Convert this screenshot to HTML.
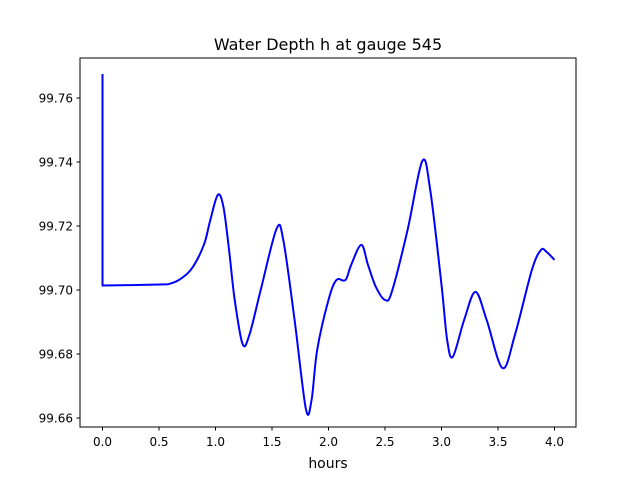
<!DOCTYPE html>
<html><head><meta charset="utf-8">
<style>
body{margin:0;background:#fff;}
svg{display:block;font-family:"DejaVu Sans","Liberation Sans",sans-serif;}
</style></head>
<body>
<svg id="chart" width="640" height="480" viewBox="0 0 640 480">
<rect width="640" height="480" fill="#fff"/>
<text x="328" y="50" font-size="16" text-anchor="middle">Water Depth h at gauge 545</text>
<g id="xticks"></g>
<g id="yticks"></g>
<path id="line" fill="none" stroke="#0000ff" stroke-width="2" stroke-linejoin="round"/>
<rect x="80" y="58" width="496" height="369" fill="none" stroke="#000" stroke-width="1"/>
<text x="328" y="468" font-size="14" text-anchor="middle">hours</text>
</svg>
<script>
const hours=[0,0,0.5,0.6,0.7,0.8,0.9,0.95,1.02,1.07,1.12,1.17,1.24,1.3,1.4,1.54,1.6,1.7,1.8,1.85,1.9,2.0,2.07,2.15,2.2,2.29,2.35,2.42,2.5,2.56,2.7,2.83,2.9,3.0,3.05,3.1,3.2,3.3,3.4,3.54,3.65,3.8,3.88,3.93,4.0];
const depth=[99.7675,99.7014,99.7017,99.702,99.7037,99.7072,99.7144,99.7213,99.7297,99.726,99.7125,99.6969,99.6831,99.686,99.7,99.7191,99.7156,99.6906,99.6628,99.6656,99.6813,99.6969,99.7031,99.7031,99.7078,99.7141,99.7078,99.7009,99.6969,99.6994,99.7188,99.7403,99.7313,99.7016,99.6844,99.6791,99.6906,99.6994,99.6906,99.6756,99.686,99.7063,99.7125,99.7119,99.7094];
const xTicks=[0,0.5,1,1.5,2,2.5,3,3.5,4];
const xTickLabels=["0.0","0.5","1.0","1.5","2.0","2.5","3.0","3.5","4.0"];
const yTicks=[99.66,99.68,99.70,99.72,99.74,99.76];
const yTickLabels=["99.66","99.68","99.70","99.72","99.74","99.76"];
const X=v=>102.5+v*113;
const Y=v=>290-(v-99.70)*3200;
const NS="http://www.w3.org/2000/svg";
const xg=document.getElementById('xticks'),yg=document.getElementById('yticks');
xTicks.forEach((t,i)=>{
  const l=document.createElementNS(NS,'line');
  l.setAttribute('x1',X(t));l.setAttribute('x2',X(t));l.setAttribute('y1',427);l.setAttribute('y2',430.5);l.setAttribute('stroke','#000');
  
  
  xg.appendChild(l);
  const tx=document.createElementNS(NS,'text');
  tx.setAttribute('x',X(t));tx.setAttribute('y',446);tx.setAttribute('font-size','12');tx.setAttribute('text-anchor','middle');
  tx.textContent=xTickLabels[i];
  
  
  xg.appendChild(tx);
});
yTicks.forEach((t,i)=>{
  const l=document.createElementNS(NS,'line');
  l.setAttribute('x1',76.5);l.setAttribute('x2',80);l.setAttribute('y1',Y(t));l.setAttribute('y2',Y(t));l.setAttribute('stroke','#000');
  
  
  yg.appendChild(l);
  const tx=document.createElementNS(NS,'text');
  tx.setAttribute('x',73);tx.setAttribute('y',Y(t)+4.5);tx.setAttribute('font-size','12');tx.setAttribute('text-anchor','end');
  tx.textContent=yTickLabels[i];
  
  
  yg.appendChild(tx);
});
const P=hours.map((h,i)=>[X(h),Y(depth[i])]);
let d=`M${P[0][0]},${P[0][1]} L${P[1][0]},${P[1][1]}`;
for(let i=1;i<P.length-1;i++){
  const p0=P[Math.max(1,i-1)],p1=P[i],p2=P[i+1],p3=P[Math.min(P.length-1,i+2)];
  const c1=[p1[0]+(p2[0]-p0[0])/6,p1[1]+(p2[1]-p0[1])/6];
  const c2=[p2[0]-(p3[0]-p1[0])/6,p2[1]-(p3[1]-p1[1])/6];
  d+=` C${c1[0]},${c1[1]} ${c2[0]},${c2[1]} ${p2[0]},${p2[1]}`;
}
document.getElementById('line').setAttribute('d',d);
</script>
</body></html>
